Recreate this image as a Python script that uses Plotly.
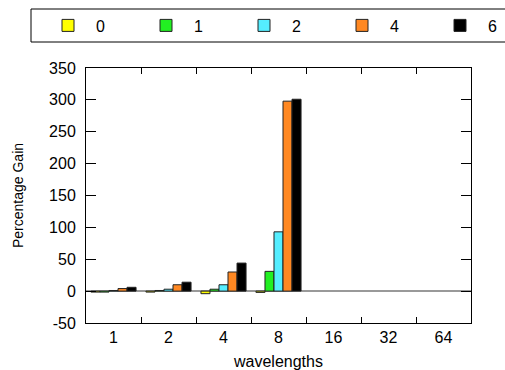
import plotly.graph_objects as go

categories = ["1", "2", "4", "8", "16", "32", "64"]
series_names = ["0", "1", "2", "4", "6"]
s0 = [-1.5, -1.5, -4, -2, None, None, None]
s1 = [-1.5, 1, 3, 31, None, None, None]
s2 = [1, 3, 10, 93, None, None, None]
s4 = [4, 10, 30, 298, None, None, None]
s6 = [6, 14, 44, 301, None, None, None]
colors = ["#FFFF00", "#22F022", "#55EEFF", "#FF8822", "#000000"]
y_ticks = [-50, 0, 50, 100, 150, 200, 250, 300, 350]
y_ticktext = ["-50", "0", "50", "100", "150", "200", "250", "300", "350"]

W, H = 505, 370
L, R, T, B = 86, 34, 68, 47
PW, PH = W - L - R, H - T - B


def px_x(p):
    return (p - L) / PW


def px_y(p):
    return (H - B - p) / PH


fig = go.Figure()
all_vals = [s0, s1, s2, s4, s6]
for i, (name, vals, col) in enumerate(zip(series_names, all_vals, colors)):
    extra = {}
    if i == len(series_names) - 1:
        extra["legendwidth"] = 20
    fig.add_trace(go.Bar(x=categories, y=vals, name=name,
                         marker=dict(color=col, line=dict(color="#222222", width=1)),
                         **extra))

fam = "Liberation Sans, Arial, sans-serif"
fig.update_layout(
    width=W, height=H,
    margin=dict(l=L, r=R, t=T, b=B, autoexpand=False),
    paper_bgcolor="white", plot_bgcolor="white",
    font=dict(family=fam, size=16, color="#000000"),
    barmode="group", bargap=0.18, bargroupgap=0,
    showlegend=True,
    legend=dict(orientation="h", xref="paper", yref="paper",
                x=px_x(40), y=px_y(25.5), xanchor="left", yanchor="middle",
                borderwidth=0, bgcolor="rgba(0,0,0,0)",
                itemwidth=46,
                entrywidth=37, entrywidthmode="pixels",
                font=dict(family=fam, size=16),
                traceorder="normal"),
    shapes=[dict(type="rect", xref="paper", yref="paper",
                 x0=px_x(31), x1=px_x(560), y0=px_y(42), y1=px_y(9),
                 line=dict(color="#000000", width=1), fillcolor="rgba(0,0,0,0)")],
    xaxis=dict(type="category", categoryorder="array", categoryarray=categories,
               showline=True, linecolor="#000000", linewidth=1, mirror="ticks",
               ticks="inside", ticklen=6, tickcolor="#000000", tickson="boundaries",
               showgrid=False, range=[-0.5, 6.5],
               title=dict(text="wavelengths", font=dict(size=16), standoff=11)),
    yaxis=dict(range=[-50, 350], tickvals=y_ticks, ticktext=y_ticktext,
               showline=True, linecolor="#000000", linewidth=1, mirror="ticks",
               ticks="inside", ticklen=10, tickcolor="#000000", ticklabelstandoff=6,
               showgrid=False, zeroline=True, zerolinecolor="#999999", zerolinewidth=1.5,
               title=dict(text="Percentage Gain", font=dict(size=14), standoff=22)),
)
fig.write_html("out.html")
